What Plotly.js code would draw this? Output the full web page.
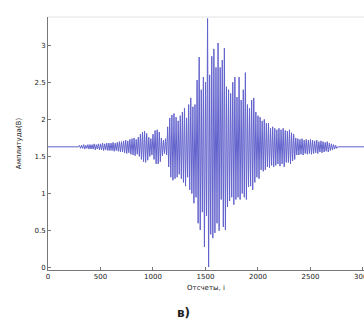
<!DOCTYPE html>
<html>
<head>
<meta charset="utf-8">
<script src="https://cdn.plot.ly/plotly-3.0.1.min.js"></script>
<style>html,body{margin:0;padding:0;background:#fff;overflow:hidden}#chart{width:364px;height:327px}</style>
</head>
<body>
<div id="chart"></div>
<script>
// Flat lead-in and tail (sample index, amplitude in V)
const leadSamples = [0, 290];
const leadValues = [1.63, 1.63];
const tailSamples = [2760, 3050];
const tailValues = [1.63, 1.63];

// Burst: oscillation extremes, one every 10 samples from sample 300
const burstStart = 300;
const burstStep = 10;
const burstValues = [
  1.65,1.61,1.65,1.61,1.66,1.60,1.65,1.61,1.66,1.60,
  1.66,1.60,1.66,1.60,1.67,1.59,1.66,1.60,1.67,1.59,
  1.67,1.59,1.68,1.58,1.67,1.59,1.68,1.58,1.68,1.58,
  1.68,1.58,1.69,1.57,1.68,1.58,1.69,1.57,1.70,1.56,
  1.70,1.56,1.71,1.55,1.72,1.54,1.71,1.55,1.73,1.53,
  1.74,1.52,1.75,1.51,1.73,1.53,1.76,1.50,1.80,1.46,
  1.83,1.43,1.84,1.42,1.81,1.45,1.76,1.50,1.74,1.52,
  1.80,1.46,1.85,1.40,1.86,1.40,1.83,1.43,1.75,1.51,
  1.72,1.54,1.74,1.52,1.90,1.36,2.02,1.22,2.06,1.18,
  2.08,1.20,2.03,1.22,1.98,1.26,2.05,1.20,2.10,1.15,
  2.15,1.10,2.02,1.22,2.20,1.05,2.29,1.00,2.17,0.87,
  2.20,0.95,2.53,0.60,2.84,0.51,2.40,0.75,2.57,0.28,
  2.50,0.70,3.36,0.01,2.60,0.45,2.85,0.40,2.95,0.47,
  2.70,0.60,3.03,0.50,2.70,0.92,2.80,0.55,2.96,0.51,
  2.44,0.82,2.40,0.90,2.35,0.95,2.50,0.85,2.57,0.92,
  2.30,0.95,2.57,0.92,2.26,1.00,2.40,0.95,2.63,0.92,
  2.20,1.09,2.15,1.10,2.26,1.05,2.29,1.15,2.10,1.22,
  2.05,1.20,2.03,1.32,1.98,1.30,2.00,1.32,1.95,1.36,
  1.95,1.35,1.88,1.38,1.90,1.36,1.88,1.38,1.86,1.40,
  1.88,1.37,1.86,1.40,1.88,1.36,1.85,1.42,1.84,1.42,
  1.86,1.40,1.82,1.44,1.80,1.46,1.75,1.52,1.74,1.52,
  1.73,1.53,1.74,1.52,1.72,1.54,1.73,1.53,1.72,1.54,
  1.73,1.53,1.72,1.54,1.71,1.55,1.72,1.54,1.70,1.56,
  1.71,1.55,1.70,1.56,1.69,1.57,1.70,1.56,1.68,1.58,
  1.67,1.59,1.66,1.60,1.65,1.61
];

const xTickVals = [0, 500, 1000, 1500, 2000, 2500, 3000];
const xTickText = ['0', '500', '1000', '1500', '2000', '2500', '3000'];
const yTickVals = [0, 0.5, 1, 1.5, 2, 2.5, 3];
const yTickText = ['0', '0.5', '1', '1.5', '2', '2.5', '3'];

const burstSamples = burstValues.map((_, i) => burstStart + i * burstStep);
const xs = leadSamples.concat(burstSamples, tailSamples);
const ys = leadValues.concat(burstValues, tailValues);

const tickFont = {family: 'DejaVu Sans', size: 7, color: '#222'};

Plotly.newPlot('chart', [{
  x: xs, y: ys, type: 'scatter', mode: 'lines',
  line: {color: 'rgb(98,98,205)', width: 1},
  hoverinfo: 'skip'
}], {
  width: 364, height: 327,
  margin: {l: 48, r: 0, t: 17, b: 57},
  paper_bgcolor: '#fff', plot_bgcolor: '#fff',
  showlegend: false,
  xaxis: {
    range: [0, 3010], tickvals: xTickVals, ticktext: xTickText,
    ticklabeloverflow: 'allow',
    showgrid: false, zeroline: false, showline: true, linecolor: '#777', linewidth: 1,
    ticks: 'inside', ticklen: 3, tickcolor: '#777', tickfont: tickFont,
    title: {text: 'Отсчеты, i', font: {family: 'DejaVu Sans', size: 7, color: '#222'}, standoff: 4}
  },
  yaxis: {
    range: [-0.03, 3.38], tickvals: yTickVals, ticktext: yTickText,
    showgrid: false, zeroline: false, showline: true, linecolor: '#777', linewidth: 1,
    ticks: 'inside', ticklen: 3, tickcolor: '#777', tickfont: tickFont,
    title: {text: 'Амплитуда(В)', font: {family: 'DejaVu Sans', size: 7, color: '#222'}, standoff: 12}
  },
  shapes: [{type: 'line', xref: 'paper', yref: 'paper', x0: 0, x1: 1, y0: 1, y1: 1,
            line: {color: '#e2e2e2', width: 1}}],
  annotations: [{text: '<b>в)</b>', xref: 'paper', yref: 'paper', x: 0.43, y: -0.17,
                 xanchor: 'center', yanchor: 'middle', showarrow: false,
                 font: {family: 'DejaVu Sans', size: 12, color: '#222'}}]
}, {staticPlot: true, displayModeBar: false});
</script>
</body>
</html>
